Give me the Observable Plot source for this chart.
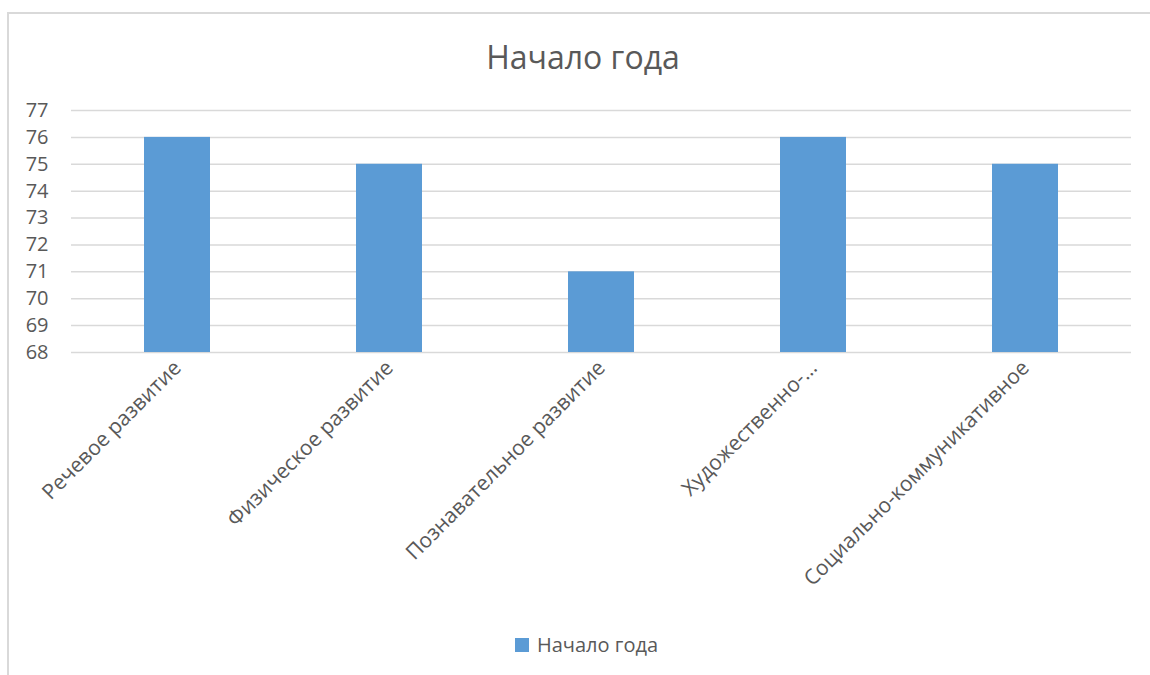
<!DOCTYPE html>
<html>
<head>
<meta charset="utf-8">
<script src="https://cdn.jsdelivr.net/npm/d3@7"></script>
<script src="https://cdn.jsdelivr.net/npm/@observablehq/plot@0.6"></script>
<style>
  html, body { margin: 0; padding: 0; background: #fff; overflow: hidden; }
  body { width: 1150px; height: 675px; position: relative; font-family: "Open Sans", "Noto Sans", sans-serif; color: #595959; }
  #frame { position: absolute; left: 7px; top: 12px; width: 1160px; height: 700px; border-left: 2px solid #d9d9d9; border-top: 2px solid #d9d9d9; box-sizing: border-box; }
  #title { position: absolute; left: 0; width: 1166px; top: 35px; text-align: center; font-size: 32px; line-height: 44px; color: #595959; }
  #chart { position: absolute; left: 0; top: 0; }
  #legend { position: absolute; left: 515px; top: 631px; display: flex; align-items: center; font-size: 20px; line-height: 28px; color: #595959; }
  #legend .sw { width: 14px; height: 14px; background: #5B9BD5; margin-right: 8px; }
</style>
</head>
<body>
<div id="frame"></div>
<div id="title">Начало года</div>
<div id="chart"></div>
<div id="legend"><span class="sw"></span><span>Начало года</span></div>
<script>
const categories = ["Речевое развитие", "Физическое развитие", "Познавательное развитие", "Художественно-…", "Социально-коммуникативное"];
const values = [76, 75, 71, 76, 75];
const yTicks = [68, 69, 70, 71, 72, 73, 74, 75, 76, 77];

const data = categories.map((c, i) => ({category: c, value: values[i]}));

const plot = Plot.plot({
  width: 1150,
  height: 620,
  marginTop: 110,
  marginBottom: 268,
  marginLeft: 71,
  marginRight: 19,
  style: {fontFamily: "'Open Sans', 'Noto Sans', sans-serif", fontSize: "20px", color: "#595959", background: "transparent"},
  x: {domain: categories, paddingInner: 0.69, paddingOuter: 0.345, label: null},
  y: {domain: [68, 77], label: null},
  marks: [
    Plot.gridY(yTicks, {stroke: "#d9d9d9", strokeOpacity: 1, strokeWidth: 1.5}),
    Plot.barY(data, {x: "category", y1: 68, y2: "value", fill: "#5B9BD5"}),
    Plot.axisY(yTicks, {tickSize: 0, tickPadding: 23, fontSize: 20, fill: "#595959", label: null}),
    Plot.axisX({tickSize: 0, tickPadding: 12, tickRotate: -45, fontSize: 21, fill: "#595959", label: null})
  ]
});
document.getElementById("chart").appendChild(plot);
</script>
</body>
</html>
